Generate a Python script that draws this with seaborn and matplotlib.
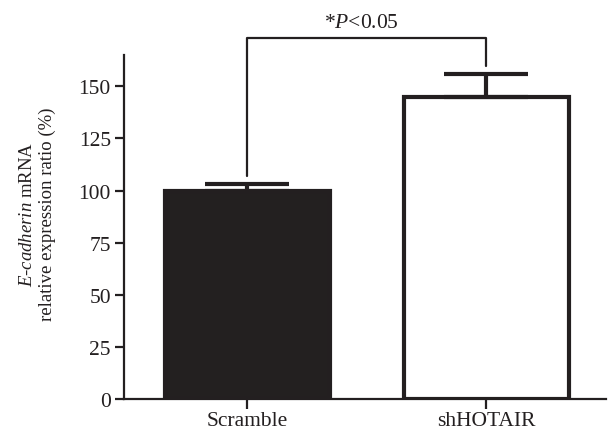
import matplotlib
matplotlib.use("Agg")
import matplotlib.pyplot as plt
import seaborn as sns
import pandas as pd

# data
groups = ["Scramble", "shHOTAIR"]
means = [100, 145]
sems = [3, 11]
bar_colors = ["#231f20", "#ffffff"]
sig_text = "*$\\it{P}$<0.05"
yticks = [0, 25, 50, 75, 100, 125, 150]

ink = "#231f20"

sns.set_style("ticks")
plt.rcParams["font.family"] = ["Liberation Serif", "DejaVu Serif"]
plt.rcParams["mathtext.fontset"] = "custom"
plt.rcParams["mathtext.it"] = "Liberation Serif:italic"
plt.rcParams["mathtext.rm"] = "Liberation Serif"

df = pd.DataFrame({"group": groups, "mean": means, "sem": sems})

fig = plt.figure(figsize=(6.08, 4.35), dpi=100)
ax = fig.add_axes([0.204, 0.0805, 0.793, 0.7905])

sns.barplot(data=df, x="group", y="mean", hue="group", palette=bar_colors,
            legend=False, errorbar=None, width=0.69, ax=ax,
            edgecolor=ink, linewidth=3)
for p in ax.patches:
    p.set_joinstyle("miter")

xs = list(range(len(groups)))
ax.errorbar(xs, means, yerr=[[0, 0], sems], fmt="none", ecolor=ink,
            elinewidth=3, capsize=30, capthick=3, zorder=5)

# significance bracket
left_y = means[0] + sems[0] + 4
right_y = means[1] + sems[1] + 4
top_y = 173
ax.plot([xs[0], xs[0], xs[1], xs[1]], [left_y, top_y, top_y, right_y],
        color=ink, lw=1.6, clip_on=False)
ax.text((xs[0] + xs[1]) / 2 - 0.02, top_y + 3, sig_text, ha="center", va="bottom",
        fontsize=15.5, color=ink)

ax.set_xlim(-0.515, 1.502)
ax.set_ylim(0, 165)
ax.set_yticks(yticks)
ax.set_xlabel("")
ax.set_ylabel("$\\it{E}$-$\\it{cadherin}$ mRNA\nrelative expression ratio (%)",
              fontsize=13.5, color=ink, labelpad=16, linespacing=1.25)
ax.yaxis.label.set_y(0.54)

for side in ["top", "right"]:
    ax.spines[side].set_visible(False)
for side in ["left", "bottom"]:
    ax.spines[side].set_linewidth(1.6)
    ax.spines[side].set_color(ink)
ax.tick_params(axis="both", colors=ink, width=1.6, labelsize=15.5)
ax.tick_params(axis="y", length=6.5, pad=3)
ax.tick_params(axis="x", length=7, pad=2)

fig.savefig("out.png", dpi=100)
